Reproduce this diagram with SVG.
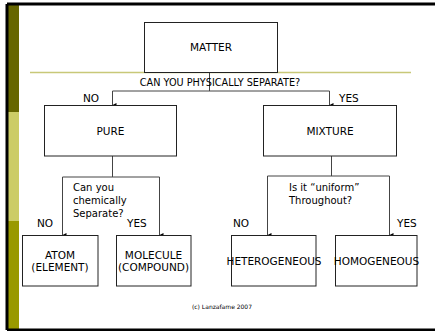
<svg xmlns="http://www.w3.org/2000/svg" width="435" height="331" viewBox="0 0 435 331">
<style>
text{font-family:"DejaVu Sans",Verdana,sans-serif;fill:#000}
.box{fill:#fff;stroke:#222;stroke-width:1}
.lbl{font-size:10.5px;text-anchor:middle}
.q{font-size:10px}
.yn{font-size:10.5px}
.con{fill:none;stroke:#444;stroke-width:1}
</style>
<defs>
<marker id="ah" markerWidth="4" markerHeight="4" refX="2" refY="4" orient="auto" markerUnits="userSpaceOnUse" viewBox="0 0 4 4">
<path d="M0,0 L4,0 L2,4 Z" fill="#000"/>
</marker>
</defs>
<rect x="0" y="0" width="435" height="331" fill="#fff"/>
<g id="frame">
<rect x="8" y="5" width="11" height="107" fill="#666600"/>
<rect x="8" y="112" width="11" height="109" fill="#cccc66"/>
<rect x="8" y="221" width="11" height="109" fill="#999900"/>
<path d="M7,4 H435 M7,4 V330 M7,330 H435" fill="none" stroke="#000" stroke-width="3"/>
<line x1="30" y1="72.5" x2="411" y2="72.5" stroke="#c8c878" stroke-width="1.5"/>
</g>
<g id="connectors">
<path class="con" d="M209.5,72.5 V91 M112.5,91 H329.5"/>
<path class="con" d="M112.5,91 V105" marker-end="url(#ah)"/>
<path class="con" d="M329.5,91 V105" marker-end="url(#ah)"/>
<path class="con" d="M112.5,156 V177 M62.5,177 H159.5"/>
<path class="con" d="M62.5,177 V235" marker-end="url(#ah)"/>
<path class="con" d="M159.5,177 V235" marker-end="url(#ah)"/>
<path class="con" d="M331.5,156 V176 M267.5,176 H389.5"/>
<path class="con" d="M267.5,176 V235" marker-end="url(#ah)"/>
<path class="con" d="M389.5,176 V235" marker-end="url(#ah)"/>
</g>
<g id="matter">
<rect class="box" x="144.5" y="22.5" width="133" height="50"/>
<text class="lbl" x="211" y="51">MATTER</text>
</g>
<g id="q1">
<text x="220" y="85.5" font-size="9.7" text-anchor="middle">CAN YOU PHYSICALLY SEPARATE?</text>
<text class="yn" x="83" y="102">NO</text>
<text class="yn" x="339" y="102">YES</text>
</g>
<g id="pure">
<rect class="box" x="44.5" y="105.5" width="132" height="50.5"/>
<text class="lbl" x="110.5" y="135">PURE</text>
</g>
<g id="mixture">
<rect class="box" x="263.5" y="105.5" width="133" height="50.5"/>
<text class="lbl" x="330" y="135">MIXTURE</text>
</g>
<g id="q2">
<text class="q" x="73" y="191">Can you</text>
<text class="q" x="73" y="204">chemically</text>
<text class="q" x="73" y="217">Separate?</text>
<text class="yn" x="37" y="227">NO</text>
<text class="yn" x="127" y="227">YES</text>
</g>
<g id="q3">
<text class="q" x="289" y="191">Is it “uniform”</text>
<text class="q" x="289" y="204">Throughout?</text>
<text class="yn" x="233" y="227">NO</text>
<text class="yn" x="397" y="227">YES</text>
</g>
<g id="atom">
<rect class="box" x="22.5" y="235.5" width="75.5" height="50.5"/>
<text class="lbl" x="60" y="259">ATOM</text>
<text class="lbl" x="60" y="271">(ELEMENT)</text>
</g>
<g id="molecule">
<rect class="box" x="116.5" y="235.5" width="74.5" height="50.5"/>
<text class="lbl" x="153.5" y="259">MOLECULE</text>
<text class="lbl" x="153.5" y="271">(COMPOUND)</text>
</g>
<g id="heterogeneous">
<rect class="box" x="231.5" y="235.5" width="84.5" height="50.5"/>
<text class="lbl" x="274" y="264.5" font-size="8.8">HETEROGENEOUS</text>
</g>
<g id="homogeneous">
<rect class="box" x="335.5" y="235.5" width="81.5" height="50.5"/>
<text class="lbl" x="376.5" y="264.5" font-size="8.6">HOMOGENEOUS</text>
</g>
<text x="222" y="309" font-size="6" text-anchor="middle">(c) Lanzafame 2007</text>
</svg>
